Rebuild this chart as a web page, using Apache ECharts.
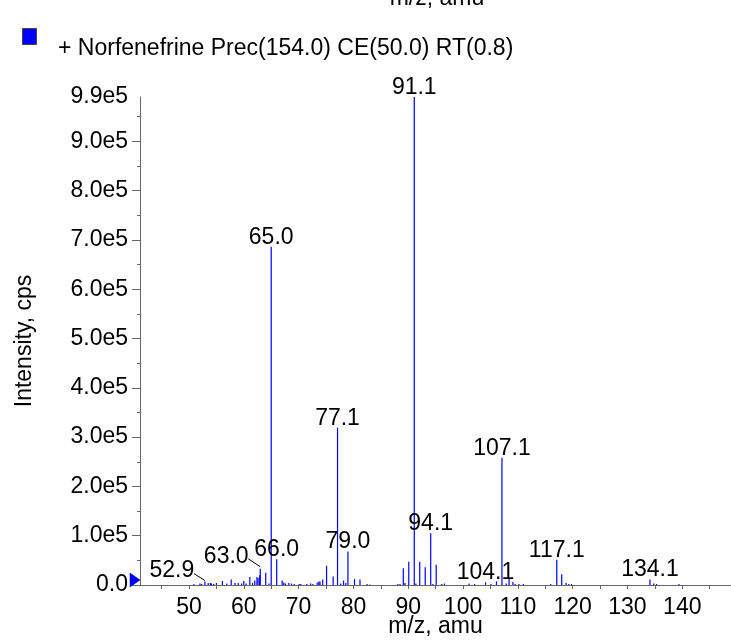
<!DOCTYPE html>
<html><head><meta charset="utf-8">
<script src="https://cdn.jsdelivr.net/npm/echarts@6/dist/echarts.min.js"></script>
<style>html,body{margin:0;padding:0;background:#fff}#c{width:731px;height:643px}</style>
</head><body><div id="c"></div><script>
const seriesName = '+ Norfenefrine Prec(154.0) CE(50.0) RT(0.8)';
const xTitle = 'm/z, amu';
const yTitle = 'Intensity, cps';

const mzValues = [50.9, 52.0, 52.3, 52.9, 53.5, 53.9, 54.1, 54.5, 55.0, 56.1, 56.9, 57.7, 58.4, 59.0, 59.6, 60.0, 60.4,
  61.1, 61.6, 62.0, 62.4, 62.6, 62.9, 63.0, 64.0, 64.6, 65.0, 66.0, 67.0, 67.3, 67.6, 68.2, 68.7, 69.2, 70.1, 70.4,
  71.5, 72.2, 72.6, 73.4, 73.7, 73.9, 74.4, 75.1, 76.3, 77.1, 77.7, 78.2, 78.6, 79.0, 80.2, 81.2, 82.5, 83.0,
  88.1, 88.5, 89.1, 89.4, 90.1, 91.1, 91.4, 92.1, 93.1, 94.1, 94.5, 95.1, 96.1, 96.6, 101.1, 102.1, 104.1, 105.1,
  106.1, 107.1, 107.9, 108.4, 109.1, 109.5, 110.2, 111.0, 116.0, 117.1, 118.0, 118.8, 119.3, 119.8, 134.1, 134.8,
  135.3, 139.4];
const intensities = [2000, 3000, 2000, 7000, 4000, 4000, 3000, 2000, 4000, 8000, 3000, 11000, 4000, 4000, 3000, 8000, 3000,
  16000, 4000, 9000, 16000, 14000, 20000, 33000, 25000, 3000, 686000, 52000, 9000, 5000, 3000, 4000, 3000, 2000, 2000, 2000,
  2000, 3000, 2000, 5000, 7000, 7000, 11000, 39000, 17000, 319000, 3000, 9000, 4000, 68000, 12000, 11000, 2000, 1000,
  2000, 2000, 34000, 4000, 47000, 990000, 3000, 47000, 36000, 105000, 2000, 41000, 2000, 3000, 3000, 2000, 5500, 2000,
  7500, 258000, 3000, 14000, 6000, 2000, 2000, 2000, 2000, 51000, 22000, 4000, 2000, 2000, 11000, 3000,
  2000, 2000];
const labeledPeaks = ['52.9', '63.0', '65.0', '66.0', '77.1', '79.0', '91.1', '94.1', '104.1', '107.1', '117.1', '134.1'];

const xTickValues = [45, 50, 55, 60, 65, 70, 75, 80, 85, 90, 95, 100, 105, 110, 115, 120, 125, 130, 135, 140, 145];
const xLabelValues = [50, 60, 70, 80, 90, 100, 110, 120, 130, 140];
const yTickValues = [0, 100000, 200000, 300000, 400000, 500000, 600000, 700000, 800000, 900000];
const yLabelValues = [0, 100000, 200000, 300000, 400000, 500000, 600000, 700000, 800000, 900000, 990000];
const yMinorTickValues = [50000, 150000, 250000, 350000, 450000, 550000, 650000, 750000, 850000, 950000];

const FONT = "'Liberation Sans', Arial, Helvetica, sans-serif";
const FS = 23;
const AXIS_COLOR = '#666';
const PEAK_COLOR = '#0000ff';

// label layout (pixel offsets only): dx, dy, leader line from [x,y] to [x,y] relative to peak top
const labelShift = {
  '52.9': { dx: -33, dy: -1, line: [[-11, -8], [0, -1]] },
  '63.0': { dx: -34, dy: -3, line: [[-12, -10], [0, -2]] }
};

const stickData = mzValues.map((m, i) => [m, intensities[i]]);
const labelData = labeledPeaks.map((t, k) => {
  const m = parseFloat(t);
  const i = mzValues.findIndex(v => Math.abs(v - m) < 1e-6);
  return [m, intensities[i], k];
});

const chart = echarts.init(document.getElementById('c'), null, { renderer: 'canvas' });
chart.setOption({
  animation: false,
  textStyle: { fontFamily: FONT },
  grid: { left: 140, right: 0, top: 97, bottom: 58, containLabel: false, outerBoundsMode: 'none' },
  xAxis: {
    type: 'value', min: 41.06, max: 148.89,
    name: xTitle, nameLocation: 'middle', nameGap: 30, nameMoveOverlap: false,
    nameTextStyle: { fontSize: FS, color: '#000', fontFamily: FONT },
    axisLine: { show: true, lineStyle: { color: AXIS_COLOR, width: 1 } },
    axisTick: { show: true, length: 4, customValues: xTickValues, lineStyle: { color: AXIS_COLOR } },
    axisLabel: { show: true, customValues: xLabelValues, margin: 11, fontSize: FS, color: '#000', fontFamily: FONT },
    splitLine: { show: false }
  },
  yAxis: [{
    type: 'value', min: 0, max: 990000, position: 'left',
    name: yTitle, nameLocation: 'middle', nameGap: 104, nameRotate: 90, nameMoveOverlap: false,
    nameTextStyle: { fontSize: FS, color: '#000', fontFamily: FONT },
    axisLine: { show: true, lineStyle: { color: AXIS_COLOR, width: 1 } },
    axisTick: { show: true, length: 8, customValues: yTickValues, lineStyle: { color: AXIS_COLOR } },
    axisLabel: {
      show: true, customValues: yLabelValues, margin: 12, fontSize: FS, color: '#000', fontFamily: FONT,
      formatter: v => v === 0 ? '0.0' : (v / 100000).toFixed(1) + 'e5'
    },
    splitLine: { show: false }
  }, {
    type: 'value', min: 0, max: 990000, position: 'left', offset: 0,
    axisLine: { show: false },
    axisTick: { show: true, length: 3, customValues: yMinorTickValues, lineStyle: { color: AXIS_COLOR } },
    axisLabel: { show: false },
    splitLine: { show: false }
  }],
  series: [{
    type: 'custom',
    name: seriesName,
    data: stickData,
    clip: true,
    renderItem: (params, api) => {
      const p0 = api.coord([api.value(0), 0]);
      const p1 = api.coord([api.value(0), api.value(1)]);
      return { type: 'line', shape: { x1: p0[0], y1: p0[1], x2: p1[0], y2: p1[1] },
        style: { stroke: PEAK_COLOR, lineWidth: 1.2 } };
    }
  }, {
    type: 'custom',
    name: 'peak labels',
    data: labelData,
    silent: true,
    z: 5,
    renderItem: (params, api) => {
      const p = api.coord([api.value(0), api.value(1)]);
      const t = labeledPeaks[api.value(2)];
      const s = labelShift[t] || { dx: 0, dy: 0 };
      const children = [{
        type: 'text',
        x: p[0] + s.dx, y: p[1] + 2 + s.dy,
        style: { text: t, font: FS + 'px ' + FONT, fill: '#000', align: 'center', verticalAlign: 'bottom' }
      }];
      if (s.line) {
        children.push({
          type: 'line',
          shape: { x1: p[0] + s.line[0][0], y1: p[1] + s.line[0][1], x2: p[0] + s.line[1][0], y2: p[1] + s.line[1][1] },
          style: { stroke: '#000', lineWidth: 1 }
        });
      }
      return { type: 'group', children };
    }
  }],
  graphic: [
    { type: 'rect', left: 22, top: 28, shape: { width: 14, height: 16 },
      style: { fill: PEAK_COLOR, stroke: '#444', lineWidth: 1 } },
    { type: 'text', x: 58, y: 49,
      style: { text: seriesName, font: FS + 'px ' + FONT, fill: '#000', verticalAlign: 'middle', align: 'left' } },
    { type: 'text', x: 437, y: -1,
      style: { text: xTitle, font: FS + 'px ' + FONT, fill: '#000', verticalAlign: 'middle', align: 'center' } },
    { type: 'polygon', shape: { points: [[130, 573], [130, 587], [140, 580]] },
      style: { fill: PEAK_COLOR, stroke: '#00008b', lineWidth: 0.5 }, z: 100 }
  ]
});
</script></body></html>
